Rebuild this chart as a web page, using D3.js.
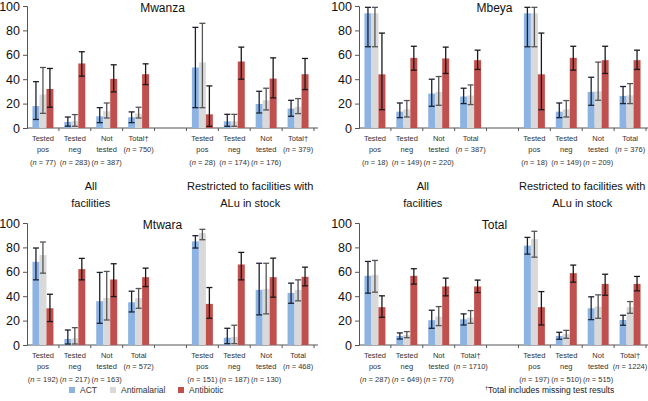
<!DOCTYPE html>
<html>
<head>
<meta charset="utf-8">
<script src="https://cdn.jsdelivr.net/npm/d3@7"></script>
<style>
  body { margin: 0; background: #fff; }
  svg { display: block; font-family: "Liberation Sans", Arial, sans-serif; }
</style>
</head>
<body>
<div id="chart"></div>
<script>
// Labels
const regions = ["Mwanza", "Mbeya", "Mtwara", "Total"];
const series = ["ACT", "Antimalarial", "Antibiotic"];
const categories = [["Tested", "pos"], ["Tested", "neg"], ["Not", "tested"], ["Total"]];
const groupLabels = [["All", "facilities"], ["Restricted to facilities with", "ALu in stock"]];
const totalDagger = [true, false, false, true];
const yTicks = [0, 20, 40, 60, 80, 100];

// Sample sizes: 4 categories for "All", then 4 for "Restricted"
const nMwanza = [77, 283, 387, 750, 28, 174, 176, 379];
const nMbeya = [18, 149, 220, 387, 18, 149, 209, 376];
const nMtwara = [192, 217, 163, 572, 151, 187, 130, 468];
const nTotal = [287, 649, 770, 1710, 197, 510, 515, 1224];

// [percent, lower CI, upper CI]
const mwanzaACT = [[18, 7, 38], [5, 1.5, 9], [9.6, 4.4, 16.7], [8.8, 4.4, 13.2], [49.6, 16.7, 82.5], [5.5, 1.4, 11.2], [19.7, 12.3, 30.1], [15.9, 9.6, 22.7]];
const mwanzaAntimal = [[27.4, 12, 49.6], [5.8, 1.4, 11], [13.7, 8.2, 20.5], [11.8, 8.2, 17], [53.7, 16.7, 85.8], [5.5, 1.4, 11.2], [22.7, 14.8, 32.6], [17.3, 11.8, 24.1]];
const mwanzaAntibio = [[32, 17, 48.8], [52.9, 42.5, 62.5], [40.3, 29.6, 51.8], [44.1, 35.6, 52.6], [11.2, 1.4, 34.5], [54.5, 40, 66.3], [40.5, 24.7, 57.5], [44.1, 31.5, 57]];

const mbeyaACT = [[94, 66.6, 98.9], [13.4, 8.5, 20.5], [28.2, 17.8, 40], [25.8, 20, 32.6], [94, 66.6, 98.9], [13.4, 8.5, 20.5], [29.6, 18.6, 41.6], [26.3, 20, 34]];
const mbeyaAntimal = [[94, 66.6, 98.9], [15.3, 9, 22.5], [29.6, 18.6, 42.2], [26.6, 19.2, 35.3], [94, 66.6, 98.9], [15.3, 9, 22.5], [30.1, 22.7, 54], [26.8, 20, 36.4]];
const mbeyaAntibio = [[44, 15, 77.8], [57.5, 47.4, 67], [57, 44.7, 66.3], [55.6, 48, 63.8], [44, 15, 77.8], [57.5, 47.4, 67], [55.6, 44.7, 67], [55.6, 48, 63.8]];

const mtwaraACT = [[68.2, 53.4, 79.5], [4.9, 0.8, 12.3], [35.9, 17.8, 59.5], [35, 27.1, 44.1], [84.9, 79.5, 89.6], [6, 1.1, 13.7], [45.2, 24.7, 67], [42.7, 34.2, 50.7]];
const mtwaraAntimal = [[73.7, 58.9, 84.4], [5.5, 0.8, 14.2], [38.6, 20.5, 60.3], [38.4, 30.1, 46.3], [91.8, 86.3, 94.8], [6.6, 1.1, 16.2], [46, 25.5, 67], [45.2, 36.2, 53.4]];
const mtwaraAntibio = [[30.1, 19.2, 41.6], [62.2, 53.4, 71], [53.7, 39.7, 66.6], [55.6, 47.9, 63], [33.7, 21.9, 47.1], [66, 53.4, 75.9], [55.6, 39.2, 71.2], [55.9, 48.5, 63.8]];

const totalACT = [[56.7, 42.5, 68.5], [7.4, 4.9, 9.9], [20.3, 13.7, 28.5], [21.1, 16.4, 25.5], [81.4, 74.5, 88.2], [7.4, 4.7, 10.4], [30.1, 20.8, 39.5], [20.5, 16.2, 24.4]];
const totalAntimal = [[57.5, 43.3, 69.3], [8.2, 6, 11], [23.3, 15.9, 31.5], [22.5, 17.8, 28.2], [86.8, 72, 93.2], [9, 5.5, 12], [31.5, 21.9, 41.1], [31, 26, 35.6]];
const totalAntibio = [[31, 22.7, 40.3], [56.7, 49.9, 62.5], [48, 40.3, 54.8], [48, 43, 53.2], [31, 16.4, 43.8], [58.9, 51.5, 65.5], [50.1, 40.8, 58], [50.1, 44.4, 56.2]];

const regionValues = [
  [mwanzaACT, mwanzaAntimal, mwanzaAntibio],
  [mbeyaACT, mbeyaAntimal, mbeyaAntibio],
  [mtwaraACT, mtwaraAntimal, mtwaraAntibio],
  [totalACT, totalAntimal, totalAntibio]
];
const regionN = [nMwanza, nMbeya, nMtwara, nTotal];

const width = 648, height = 401;
const colors = ["#8db3e2", "#d9d9d9", "#c0504d"];
const errColors = ["#1b2233", "#555", "#1a1a1a"];

// panel frames (axis origin and extent)
const frames = [
  { x0: 27, x1: 314, yTop: 6, yBot: 128 },
  { x0: 359, x1: 646, yTop: 6, yBot: 128 },
  { x0: 27, x1: 314, yTop: 223, yBot: 345 },
  { x0: 359, x1: 646, yTop: 223, yBot: 345 }
];

const svg = d3.create("svg")
    .attr("width", width)
    .attr("height", height)
    .attr("viewBox", [0, 0, width, height]);

// slot index: 0-3 for group 1, 5-8 for group 2 (slot 4 left empty)
const slotOf = i => i < 4 ? i : i + 1;

regions.forEach((region, r) => {
  const f = frames[r];
  const g = svg.append("g");

  const x = d3.scaleBand().domain(d3.range(9)).range([f.x0, f.x1]);
  const xs = d3.scaleBand().domain(series).range([0, x.bandwidth()]).paddingOuter(0.78);
  const y = d3.scaleLinear().domain([0, 100]).range([f.yBot, f.yTop]);

  // y axis
  const yAxis = g.append("g")
      .attr("transform", `translate(${f.x0},0)`)
      .call(d3.axisLeft(y).tickValues(yTicks).tickSize(4).tickPadding(3));
  yAxis.selectAll("text").attr("font-size", 12.5).attr("fill", "#111").attr("font-family", "Liberation Sans, Arial, sans-serif");
  yAxis.selectAll("line, path").attr("stroke", "#555");

  // x axis with ticks at slot boundaries
  g.append("line")
      .attr("x1", f.x0).attr("x2", f.x1 + 4)
      .attr("y1", f.yBot).attr("y2", f.yBot)
      .attr("stroke", "#555");
  g.append("g").selectAll("line")
    .data(d3.range(1, 10))
    .join("line")
      .attr("x1", d => f.x0 + d * x.step())
      .attr("x2", d => f.x0 + d * x.step())
      .attr("y1", f.yBot).attr("y2", f.yBot + 3)
      .attr("stroke", "#555");

  // bars
  const cells = [];
  regionValues[r].forEach((vals, s) => {
    vals.forEach((v, i) => cells.push({ s, i, v: v[0], lo: v[1], hi: v[2] }));
  });

  g.append("g").selectAll("rect")
    .data(cells)
    .join("rect")
      .attr("x", d => x(slotOf(d.i)) + xs(series[d.s]))
      .attr("y", d => y(d.v))
      .attr("width", xs.bandwidth())
      .attr("height", d => y(0) - y(d.v))
      .attr("fill", d => colors[d.s]);

  // error bars
  const err = g.append("g").selectAll("g")
    .data(cells)
    .join("g")
      .attr("stroke", d => errColors[d.s])
      .attr("stroke-width", 1.3);
  const cx = d => x(slotOf(d.i)) + xs(series[d.s]) + xs.bandwidth() / 2;
  err.append("line")
      .attr("x1", cx).attr("x2", cx)
      .attr("y1", d => y(d.lo)).attr("y2", d => y(d.hi));
  err.append("line")
      .attr("x1", d => cx(d) - 3).attr("x2", d => cx(d) + 3)
      .attr("y1", d => y(d.hi)).attr("y2", d => y(d.hi));
  err.append("line")
      .attr("x1", d => cx(d) - 3).attr("x2", d => cx(d) + 3)
      .attr("y1", d => y(d.lo)).attr("y2", d => y(d.lo));

  // category labels
  const labels = g.append("g").selectAll("text")
    .data(regionN[r])
    .join("text")
      .attr("text-anchor", "middle")
      .attr("font-size", 7.5)
      .attr("fill", "#333")
      .attr("transform", (d, i) => `translate(${x(slotOf(i)) + x.bandwidth() / 2},${f.yBot})`);
  labels.each(function(n, i) {
    const t = d3.select(this);
    const cat = categories[i % 4].slice();
    if (i % 4 === 3 && totalDagger[r]) cat[0] = "Total\u2020";
    cat.forEach((line, k) => t.append("tspan").attr("x", 0).attr("y", 13 + k * 11).text(line));
    const nt = t.append("tspan").attr("x", 0).attr("y", 13 + cat.length * 11 + (cat.length > 1 ? 1.5 : 0));
    nt.append("tspan").text("(");
    nt.append("tspan").attr("font-style", "italic").text("n");
    nt.append("tspan").text(` = ${n})`);
  });

  // region title
  g.append("text")
      .attr("x", (f.x0 + f.x1) / 2 - 8)
      .attr("y", f.yTop + 5.5)
      .attr("text-anchor", "middle")
      .attr("font-size", 12)
      .attr("fill", "#111")
      .text(region);
});

// group labels between the rows
[frames[0], frames[1]].forEach(f => {
  const x = d3.scaleBand().domain(d3.range(9)).range([f.x0, f.x1]);
  groupLabels.forEach((lines, gi) => {
    const cx = gi === 0 ? (x(0) + x(3) + x.bandwidth()) / 2 : (x(5) + x(8) + x.bandwidth()) / 2;
    lines.forEach((line, k) => {
      svg.append("text")
          .attr("x", cx)
          .attr("y", 190 + k * 17)
          .attr("text-anchor", "middle")
          .attr("font-size", 11)
          .attr("fill", "#111")
          .text(line);
    });
  });
});

// legend
const legendX = [69, 110, 178];
const legend = svg.append("g").selectAll("g")
  .data(series)
  .join("g")
    .attr("transform", (d, i) => `translate(${legendX[i]},387)`);
legend.append("rect")
    .attr("width", 6).attr("height", 6)
    .attr("fill", (d, i) => colors[i]);
legend.append("text")
    .attr("x", 11).attr("y", 6)
    .attr("font-size", 8.5)
    .attr("fill", "#333")
    .text(d => d);

// footnote
const foot = svg.append("text")
    .attr("x", 485).attr("y", 393)
    .attr("font-size", 8.5)
    .attr("fill", "#222");
foot.append("tspan").attr("font-size", 5.5).attr("dy", -3).text("\u2020");
foot.append("tspan").attr("dy", 3).text("Total includes missing test results");

d3.select("#chart").node().appendChild(svg.node());
</script>
</body>
</html>
